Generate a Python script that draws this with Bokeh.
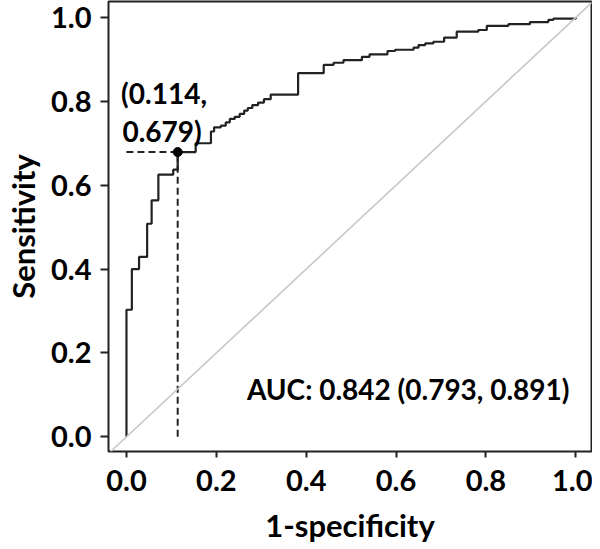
from bokeh.plotting import figure
from bokeh.models import FixedTicker, Slope, Label
from bokeh.embed import file_html
from bokeh.resources import INLINE

# ROC curve (1-specificity, sensitivity)
fpr = [0.000, 0.000, 0.012, 0.028, 0.046, 0.056, 0.071, 0.104, 0.114, 0.154,
       0.188, 0.195, 0.210, 0.221, 0.230, 0.241, 0.252, 0.262, 0.270, 0.280,
       0.293, 0.306, 0.321, 0.382, 0.439, 0.461, 0.483, 0.524, 0.541, 0.581,
       0.598, 0.639, 0.650, 0.665, 0.683, 0.707, 0.735, 0.783, 0.802, 0.850,
       0.898, 0.939, 0.950, 1.000]
tpr = [0.000, 0.303, 0.400, 0.429, 0.508, 0.564, 0.625, 0.637, 0.679, 0.700,
       0.728, 0.738, 0.742, 0.750, 0.758, 0.763, 0.770, 0.778, 0.784, 0.791,
       0.797, 0.805, 0.816, 0.867, 0.887, 0.892, 0.898, 0.906, 0.912, 0.920,
       0.923, 0.928, 0.934, 0.938, 0.942, 0.952, 0.966, 0.970, 0.980, 0.984,
       0.989, 0.994, 0.997, 1.000]

cut_fpr = 0.114
cut_tpr = 0.679
auc_text = "AUC: 0.842 (0.793, 0.891)"
cut_text_1 = "(0.114,"
cut_text_2 = "0.679)"
ticks = [0.0, 0.2, 0.4, 0.6, 0.8, 1.0]
tick_labels = ["0.0", "0.2", "0.4", "0.6", "0.8", "1.0"]

FONT = "Lato"

p = figure(width=584, height=533, output_backend="svg", toolbar_location=None,
           x_range=(-0.040, 1.035), y_range=(-0.035, 1.038),
           min_border_left=100, min_border_right=1, min_border_top=1,
           min_border_bottom=10)
p.frame_width = 483
p.frame_height = 450

p.xgrid.visible = False
p.ygrid.visible = False
p.outline_line_color = "#222222"
p.outline_line_width = 2
p.background_fill_color = "white"
p.border_fill_color = "white"

# diagonal reference line
p.add_layout(Slope(gradient=1, y_intercept=0, line_color="#c8c8c8", line_width=1.6))

# cut-off dashed lines
p.line([0.0, cut_fpr], [cut_tpr, cut_tpr], line_color="#222222", line_width=2,
       line_dash="7 4")
p.line([cut_fpr, cut_fpr], [0.0, cut_tpr], line_color="#222222", line_width=2,
       line_dash="7 4")

# ROC step curve
p.step(fpr, tpr, mode="after", line_color="#222222", line_width=2.2)

p.scatter([cut_fpr], [cut_tpr], size=9, color="black")

for ax in (p.xaxis, p.yaxis):
    ax.ticker = FixedTicker(ticks=ticks)
    ax.major_label_overrides = {t: l for t, l in zip(ticks, tick_labels)}
    ax.major_label_text_font = FONT
    ax.major_label_text_font_style = "bold"
    ax.major_label_text_font_size = "29px"
    ax.major_label_text_color = "black"
    ax.axis_label_text_font = FONT
    ax.axis_label_text_font_style = "bold"
    ax.axis_label_text_font_size = "31px"
    ax.axis_label_text_color = "black"
    ax.minor_tick_line_color = None
    ax.major_tick_in = 0
    ax.major_tick_line_width = 2
    ax.major_tick_line_color = "#222222"
    ax.axis_line_color = None

p.xaxis.axis_label = "1-specificity"
p.yaxis.axis_label = "Sensitivity"
p.xaxis.major_tick_out = 6
p.yaxis.major_tick_out = 8
p.xaxis.major_label_standoff = 12
p.yaxis.major_label_standoff = 9
p.xaxis.axis_label_standoff = 12
p.yaxis.axis_label_standoff = 6

for txt, x, y, in [(cut_text_1, -0.012, 0.820), (cut_text_2, -0.009, 0.730),
                   (auc_text, 0.268, 0.113)]:
    p.add_layout(Label(x=x, y=y, text=txt, text_font=FONT, text_font_style="bold",
                       text_font_size="28px", text_color="black",
                       text_align="left", text_baseline="alphabetic"))

open("out.html", "w").write(file_html(p, INLINE))
